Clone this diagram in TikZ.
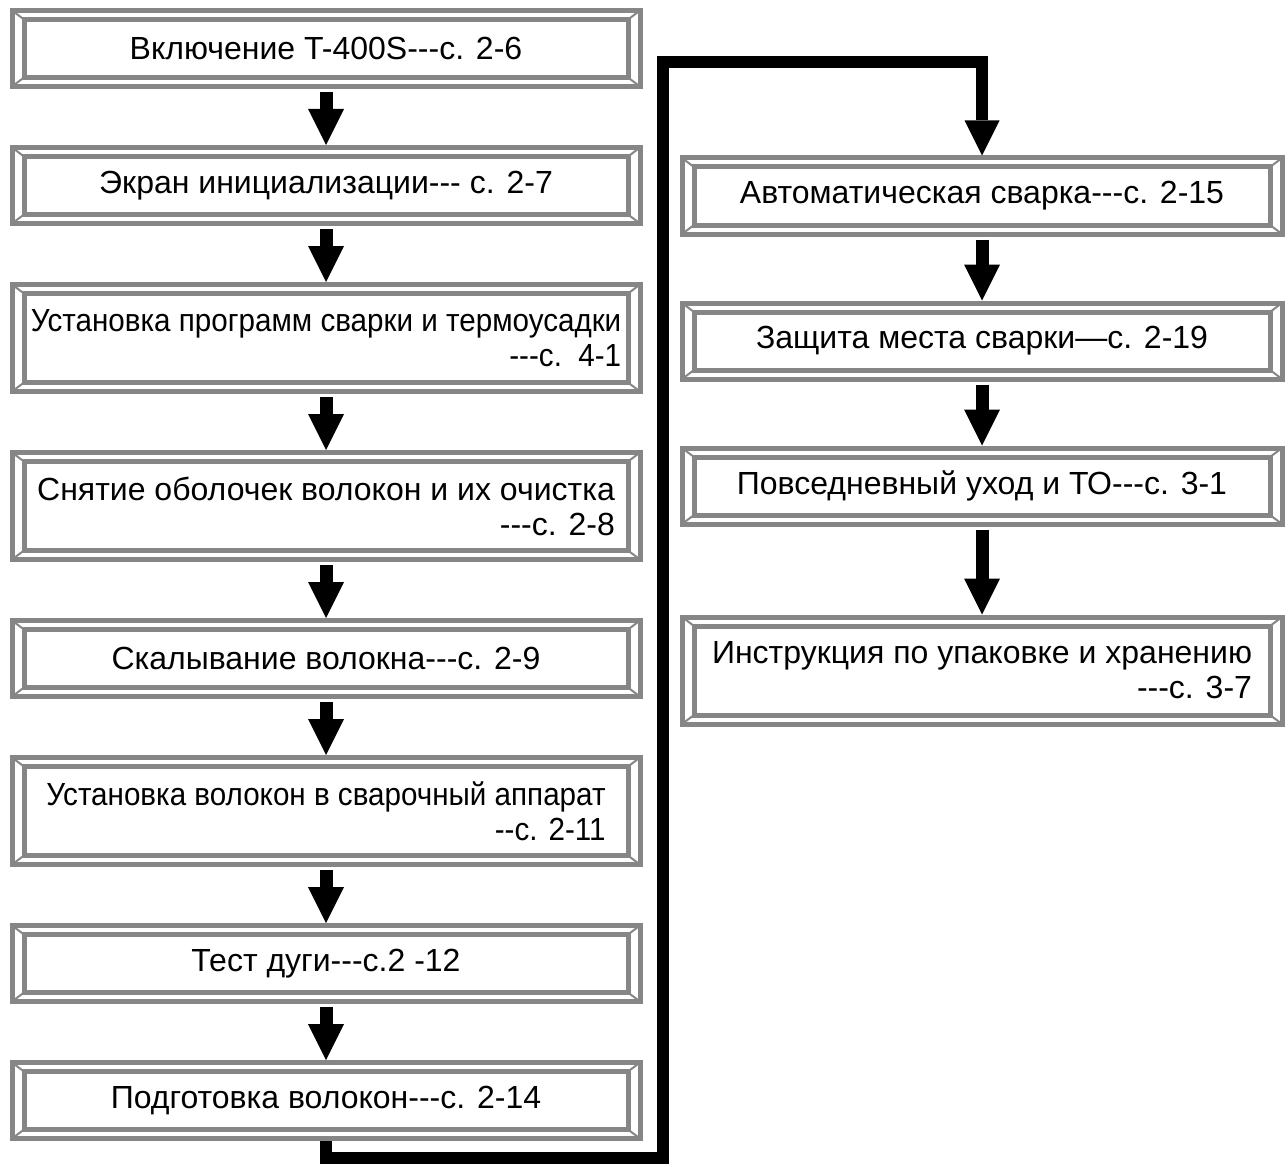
\documentclass[tikz,border=0pt]{standalone}
\usepackage{fontspec}
\setmainfont{Liberation Sans}
\newfontfamily\uzkijshrift{Liberation Sans}[FakeStretch=0.925]
\usepackage{tikz}
\usetikzlibrary{arrows.meta,positioning}
\definecolor{seryj}{HTML}{868686}
\newcommand\dsh{\mbox{-}}

\begin{document}
\begin{tikzpicture}[x=0.5pt, y=-0.5pt,
    node distance=28pt,
    etap/.style={draw=seryj, line width=2.5pt, fill=white, minimum width=314pt, minimum height=38pt, inner sep=0pt, align=right, font=\fontsize{16}{17.5}\selectfont,
      path picture={
        \draw[seryj, line width=2.5pt] ([shift={(6pt,-4.5pt)}]path picture bounding box.north west) rectangle ([shift={(-6pt,4.5pt)}]path picture bounding box.south east);
        \draw[seryj, line width=1pt] (path picture bounding box.north west) -- ++(6pt,-4.5pt) (path picture bounding box.north east) -- ++(-6pt,-4.5pt) (path picture bounding box.south west) -- ++(6pt,4.5pt) (path picture bounding box.south east) -- ++(-6pt,4.5pt);
      }},
    vysokij/.style={minimum height=53.5pt},
    pravyj/.style={minimum width=300pt},
    uzkij/.style={font=\uzkijshrift\fontsize{16}{17.5}\selectfont},
    strelka/.style={line width=6.5pt, shorten <=1.5pt, -{Triangle[length=18pt, width=18pt, line width=0pt]}},
    linija/.style={line width=6pt, line join=miter, -{Triangle[length=17.5pt, width=17.5pt, line width=0pt]}}
  ]
    \useasboundingbox (0,0) rectangle (1288,1166);
    \node[etap] (vk) at (326,48.5) {Включение T-400S\dsh\dsh\dsh с. 2-6};
    \node[etap, below=of vk] (ek) {Экран инициализации\dsh\dsh\dsh{} с. 2-7};
    \node[etap, vysokij, uzkij, below=of ek] (up) {Установка программ сварки и термоусадки\\\dsh\dsh\dsh с.\ \ 4-1};
    \node[etap, vysokij, below=of up] (so) {Снятие оболочек волокон и их очистка\\\dsh\dsh\dsh с. 2-8};
    \node[etap, below=of so] (sk) {Скалывание волокна\dsh\dsh\dsh с. 2-9};
    \node[etap, vysokij, uzkij, below=of sk] (uv) {Установка волокон в сварочный аппарат\\\dsh\dsh с. 2-11};
    \node[etap, below=of uv] (td) {Тест дуги\dsh\dsh\dsh с.2 -12};
    \node[etap, below=of td] (pv) {Подготовка волокон\dsh\dsh\dsh с. 2-14};
    \node[etap, pravyj] (as) at (982,196) {Автоматическая сварка\dsh\dsh\dsh с. 2-15};
    \node[etap, pravyj, below=32pt of as] (zm) {Защита места сварки—с. 2-19};
    \node[etap, pravyj, below=32pt of zm] (pu) {Повседневный уход и ТО\dsh\dsh\dsh с. 3-1};
    \node[etap, pravyj, vysokij, below=44pt of pu] (iu) {Инструкция по упаковке и хранению\\\dsh\dsh\dsh с. 3-7};
    \draw[strelka] (vk) -- (ek); \draw[strelka] (ek) -- (up); \draw[strelka] (up) -- (so); \draw[strelka] (so) -- (sk);
    \draw[strelka] (sk) -- (uv); \draw[strelka] (uv) -- (td); \draw[strelka] (td) -- (pv);
    \draw[strelka] (as) -- (zm); \draw[strelka] (zm) -- (pu); \draw[strelka] (pu) -- (iu);
    \coordinate (niz) at (663,1158);
    \coordinate (verh) at (663,62);
    \draw[linija] (pv.south) |- (niz) -- (verh) -| (as.north);
\end{tikzpicture}
\end{document}
